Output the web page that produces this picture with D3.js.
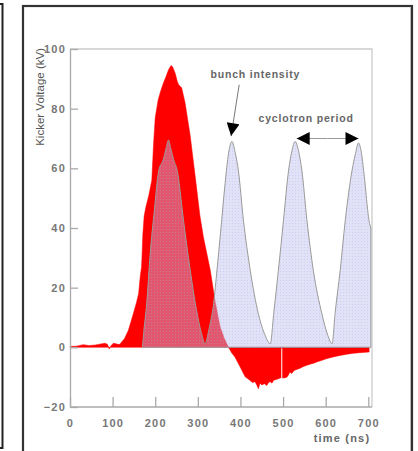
<!DOCTYPE html>
<html>
<head>
<meta charset="UTF-8">
<title>Kicker voltage and bunch intensity</title>
<script src="https://cdn.jsdelivr.net/npm/d3@7"></script>
<style>
  body { margin: 0; background: #fff; }
  svg { display: block; }
  .tick text { font-family: "Liberation Sans", Arial, sans-serif; font-size: 11px; font-weight: bold; fill: #777; letter-spacing: 1.2px; }
  .axis path, .axis line { stroke: #aaa; stroke-width: 1.3px; }
  .label { font-family: "Liberation Sans", Arial, sans-serif; fill: #666; }
</style>
</head>
<body>
<svg id="chart" width="418" height="451"></svg>
<script>
// kicker pulse, time (ns) vs voltage (kV)
const kickT = [0, 15, 31, 45, 60, 82, 88, 92, 96, 102, 108, 112, 117, 128, 137, 148, 156, 161, 165, 168, 171, 174, 178, 185, 192,
  196, 200, 207, 213, 219, 226, 231, 237, 241, 247, 252, 255, 262, 270, 282, 294, 305, 313, 329, 341, 352, 362, 372,
  380, 387, 399, 411, 422, 428, 434, 438, 442, 446, 450, 456, 462, 466, 470, 474, 478, 484, 489, 495, 502, 509, 513,
  516, 520, 526, 532, 540, 548, 556, 565, 572, 579, 590, 602, 615, 634, 650, 665, 680, 700, 702];
const kickV = [0.3, 0.4, 0.9, 0.6, 0.8, 1.4, 1.0, -0.6, 0.5, 1.4, 1.2, 1.0, 1.0, 3, 5.7, 11, 15, 18, 24, 27, 38, 44, 47, 51, 56,
  68, 77, 83, 86, 88.5, 91, 93, 94.5, 94, 91.8, 89, 88, 87, 82, 71, 57, 44, 37, 26, 15, 7, 3, 0,
  -2, -3.2, -6.5, -9.9, -11, -11.8, -11.5, -12.5, -13.9, -12, -12.6, -12.2, -12.8, -11.8, -11.5, -12, -11, -10.8, -10.5, -10.2, -10.3, -10, -9.2,
  -8.3, -8.8, -7.8, -7.4, -7, -6.4, -6, -5.6, -5.3, -4.9, -4.4, -3.8, -3.3, -2.7, -2.3, -2.0, -1.8, -1.6, -1.6];

// bunch intensity (arbitrary units on the same axis)
const bunchT = [170, 173, 180, 188, 198, 208, 219, 226, 231, 236, 243, 252, 266, 282, 297, 308, 317,
  326, 337, 345, 353, 364, 372, 380, 388, 395, 407, 423, 442, 458, 470,
  478, 489, 501, 513, 521, 528, 536, 544, 556, 571, 591, 605, 615,
  622, 634, 646, 662, 670, 677, 684, 689, 703, 706];
const bunchV = [0, 5, 14.7, 31, 46, 59, 63, 67, 69.5, 67, 63, 59, 43, 26, 12.4, 5, 1.2,
  6, 14.7, 26, 38, 55, 65, 69, 65, 59.4, 42.6, 25.8, 11.3, 4, 1.2,
  11.3, 25.8, 42.6, 59.4, 66, 69, 66, 59.4, 42.6, 25.8, 11.3, 4, 1.2,
  11.3, 25.8, 42.6, 59.4, 65, 68.5, 65, 59.4, 41.5, 40];

const xTicks = [0, 100, 200, 300, 400, 500, 600, 700];
const yTicks = [-20, 0, 20, 40, 60, 80, 100];
const gapT = 497; // thin white glitch in the negative lobe

const svg = d3.select('#chart');
const x = d3.scaleLinear().domain([0, 700]).range([70, 368.3]);
const y = d3.scaleLinear().domain([-20, 100]).range([407, 49]);
const xMax = x.invert(372);

// panel frames
svg.append('rect').attr('x', -20).attr('y', 4).attr('width', 22.5).attr('height', 444)
  .attr('fill', 'none').attr('stroke', '#222').attr('stroke-width', 2);
svg.append('rect').attr('x', 23).attr('y', 6).attr('width', 389).attr('height', 470)
  .attr('fill', 'none').attr('stroke', '#333').attr('stroke-width', 2.2);
svg.append('line').attr('x1', 410.5).attr('x2', 410.5).attr('y1', 7).attr('y2', 451)
  .attr('stroke', '#bbb').attr('stroke-width', 1);

const defs = svg.append('defs');
const pat = defs.append('pattern').attr('id', 'dots').attr('patternUnits', 'userSpaceOnUse')
  .attr('width', 3).attr('height', 3);
pat.append('rect').attr('width', 3).attr('height', 3).attr('fill', 'rgba(190,190,238,0.46)');
pat.append('rect').attr('x', 1).attr('y', 1).attr('width', 1).attr('height', 1).attr('fill', 'rgba(170,170,228,0.35)');

defs.append('marker').attr('id', 'head').attr('viewBox', '0 -5 10 10')
  .attr('refX', 10).attr('refY', 0).attr('markerUnits', 'userSpaceOnUse')
  .attr('markerWidth', 14).attr('markerHeight', 13).attr('orient', 'auto')
  .append('path').attr('d', 'M0,-5L10,0L0,5Z').attr('fill', '#000');

// plot frame (top/right)
svg.append('path').attr('d', `M${x(0)},${y(100)}H${x(xMax)}V${y(-20)}`)
  .attr('fill', 'none').attr('stroke', '#ccc').attr('stroke-width', 1.3);

// kicker area
const kick = kickT.map((t, i) => [t, kickV[i]]);
svg.append('path').datum(kick)
  .attr('fill', '#ff0000').attr('stroke', '#ff0000').attr('stroke-width', 0.5)
  .attr('d', d3.area().x(d => x(d[0])).y0(y(0)).y1(d => y(d[1])));

svg.append('line').attr('x1', x(gapT)).attr('x2', x(gapT))
  .attr('y1', y(0) + 1).attr('y2', y(-10.5))
  .attr('stroke', '#fff').attr('stroke-width', 1);

// bunch area
const bunch = bunchT.map((t, i) => [t, bunchV[i]]);
svg.append('path').datum(bunch)
  .attr('fill', 'url(#dots)').attr('stroke', '#9a9a9a').attr('stroke-width', 1)
  .attr('d', d3.area().curve(d3.curveMonotoneX).x(d => x(d[0])).y0(y(0)).y1(d => y(d[1])));

// axes
const yAxis = svg.append('g').attr('class', 'axis').attr('transform', `translate(${x(0)},0)`);
yAxis.call(d3.axisLeft(y).tickValues(d3.range(-20, 101, 5)).tickSize(-4).tickFormat(''));
yAxis.call(d3.axisLeft(y).tickValues(yTicks).tickSize(-8).tickPadding(4).tickSizeOuter(0));

const xAxis = svg.append('g').attr('class', 'axis').attr('transform', `translate(0,${y(-20)})`);
xAxis.call(d3.axisBottom(x).tickValues(d3.range(0, 701, 20)).tickSize(-5).tickFormat(''));
xAxis.call(d3.axisBottom(x).tickValues(xTicks).tickSize(-10).tickPadding(12).tickSizeOuter(0));
xAxis.select('.domain').attr('d', `M${x(0)},0H${x(xMax)}`);

// titles
svg.append('text').attr('class', 'label')
  .attr('transform', `translate(44,${y(100) - 1}) rotate(-90)`)
  .attr('text-anchor', 'end').style('font-size', '11.5px').style('fill', '#555')
  .text('Kicker Voltage (kV)');
svg.append('text').attr('class', 'label')
  .attr('x', x(700) + 2).attr('y', 442).attr('text-anchor', 'end')
  .style('font-size', '11px').style('font-weight', 'bold').style('letter-spacing', '1.2px')
  .text('time (ns)');

// annotations
svg.append('text').attr('class', 'label')
  .attr('x', x(435)).attr('y', y(91.6) + 4).attr('text-anchor', 'middle')
  .style('font-size', '10.5px').style('font-weight', 'bold').style('letter-spacing', '0.8px')
  .text('bunch intensity');
svg.append('line').attr('x1', x(397)).attr('y1', y(88)).attr('x2', x(378)).attr('y2', y(70.8))
  .attr('stroke', '#777').attr('stroke-width', 1).attr('marker-end', 'url(#head)');

svg.append('text').attr('class', 'label')
  .attr('x', x(554)).attr('y', y(76.8) + 4).attr('text-anchor', 'middle')
  .style('font-size', '10.5px').style('font-weight', 'bold').style('letter-spacing', '0.8px')
  .text('cyclotron period');
svg.append('line').attr('x1', x(604)).attr('y1', y(70)).attr('x2', x(532)).attr('y2', y(70))
  .attr('stroke', '#999').attr('stroke-width', 1).attr('marker-end', 'url(#head)');
svg.append('line').attr('x1', x(604)).attr('y1', y(70)).attr('x2', x(677)).attr('y2', y(70))
  .attr('stroke', '#999').attr('stroke-width', 1).attr('marker-end', 'url(#head)');
</script>
</body>
</html>
